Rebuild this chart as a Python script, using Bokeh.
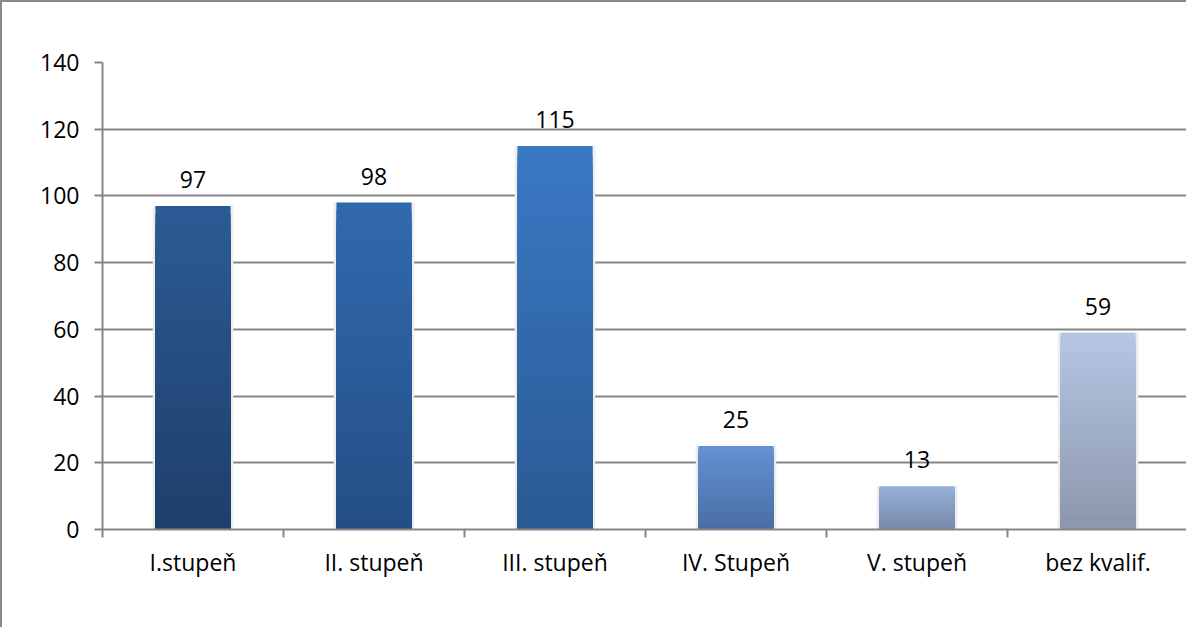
from bokeh.plotting import figure
from bokeh.models import FixedTicker, Range1d
from bokeh.core.properties import value
from bokeh.embed import file_html
from bokeh.resources import INLINE

categories = ["I.stupeň", "II. stupeň", "III. stupeň", "IV. Stupeň", "V. stupeň", "bez kvalif."]
counts = [97, 98, 115, 25, 13, 59]
top_colors = ["#2B5B94", "#3169AE", "#3A78C4", "#6392D2", "#95AFDA", "#B5C6E3"]
bottom_colors = ["#1F3F6B", "#244F86", "#2A5A94", "#4A6DA4", "#7889AA", "#8C97AC"]
y_ticks = [0, 20, 40, 60, 80, 100, 120, 140]

FONT = "Open Sans"
FS = "23px"
GRID = "#868686"


def hex_to_rgb(h):
    h = h.lstrip("#")
    return tuple(int(h[i:i + 2], 16) for i in (0, 2, 4))


def mix(c1, c2, t):
    a, b = hex_to_rgb(c1), hex_to_rgb(c2)
    return "#%02x%02x%02x" % tuple(round(a[i] + (b[i] - a[i]) * t) for i in range(3))


p = figure(width=1186, height=627, output_backend="svg", toolbar_location=None,
           x_range=Range1d(0, len(categories)), y_range=Range1d(0, 140),
           min_border_left=100, min_border_top=60, min_border_right=0, min_border_bottom=100)
p.outline_line_color = None
p.background_fill_color = "white"
p.border_fill_color = "white"
p.styles = {"border-left": "2px solid #8a8a8a", "border-top": "2px solid #8a8a8a"}

xs = [i + 0.5 for i in range(len(categories))]

# subtle shadow
p.vbar(x=xs, top=counts, width=0.415 + 0.03, bottom=0, fill_color="#EDEDED", line_color=None)

# vertical gradient bars built from layered vbars
N = 40
for k in range(N):
    t = k / (N - 1)
    tops = [c * (1 - k / N) for c in counts]
    cols = [mix(top_colors[i], bottom_colors[i], t) for i in range(len(counts))]
    p.vbar(x=xs, top=tops, bottom=0, width=0.415, fill_color=cols, line_color=None)

# data labels
p.text(x=xs, y=counts, text=[str(c) for c in counts], text_align="center",
       text_baseline="bottom", y_offset=-18, text_font=value(FONT),
       text_font_size=FS, text_color="black")

# grid
p.xgrid.grid_line_color = None
p.ygrid.grid_line_color = GRID
p.ygrid.grid_line_width = 2
p.ygrid.ticker = FixedTicker(ticks=y_ticks)

# y axis
p.yaxis.ticker = FixedTicker(ticks=y_ticks)
p.yaxis.axis_line_color = GRID
p.yaxis.axis_line_width = 2
p.yaxis.major_tick_line_color = GRID
p.yaxis.major_tick_line_width = 2
p.yaxis.major_tick_out = 8
p.yaxis.major_tick_in = 0
p.yaxis.minor_tick_line_color = None
p.yaxis.major_label_standoff = 15
p.yaxis.major_label_text_font = FONT
p.yaxis.major_label_text_font_size = FS
p.yaxis.major_label_text_color = "black"

# x axis: labels at centers, ticks at boundaries (minor)
p.xaxis.ticker = FixedTicker(ticks=xs, minor_ticks=list(range(len(categories) + 1)))
p.xaxis.major_label_overrides = {x: c for x, c in zip(xs, categories)}
p.xaxis.axis_line_color = GRID
p.xaxis.axis_line_width = 2
p.xaxis.major_tick_line_color = None
p.xaxis.minor_tick_line_color = GRID
p.xaxis.minor_tick_line_width = 2
p.xaxis.minor_tick_out = 8
p.xaxis.minor_tick_in = 0
p.xaxis.major_label_standoff = 8
p.xaxis.major_label_text_font = FONT
p.xaxis.major_label_text_font_size = FS
p.xaxis.major_label_text_color = "black"

open("out.html", "w").write(file_html(p, INLINE))
